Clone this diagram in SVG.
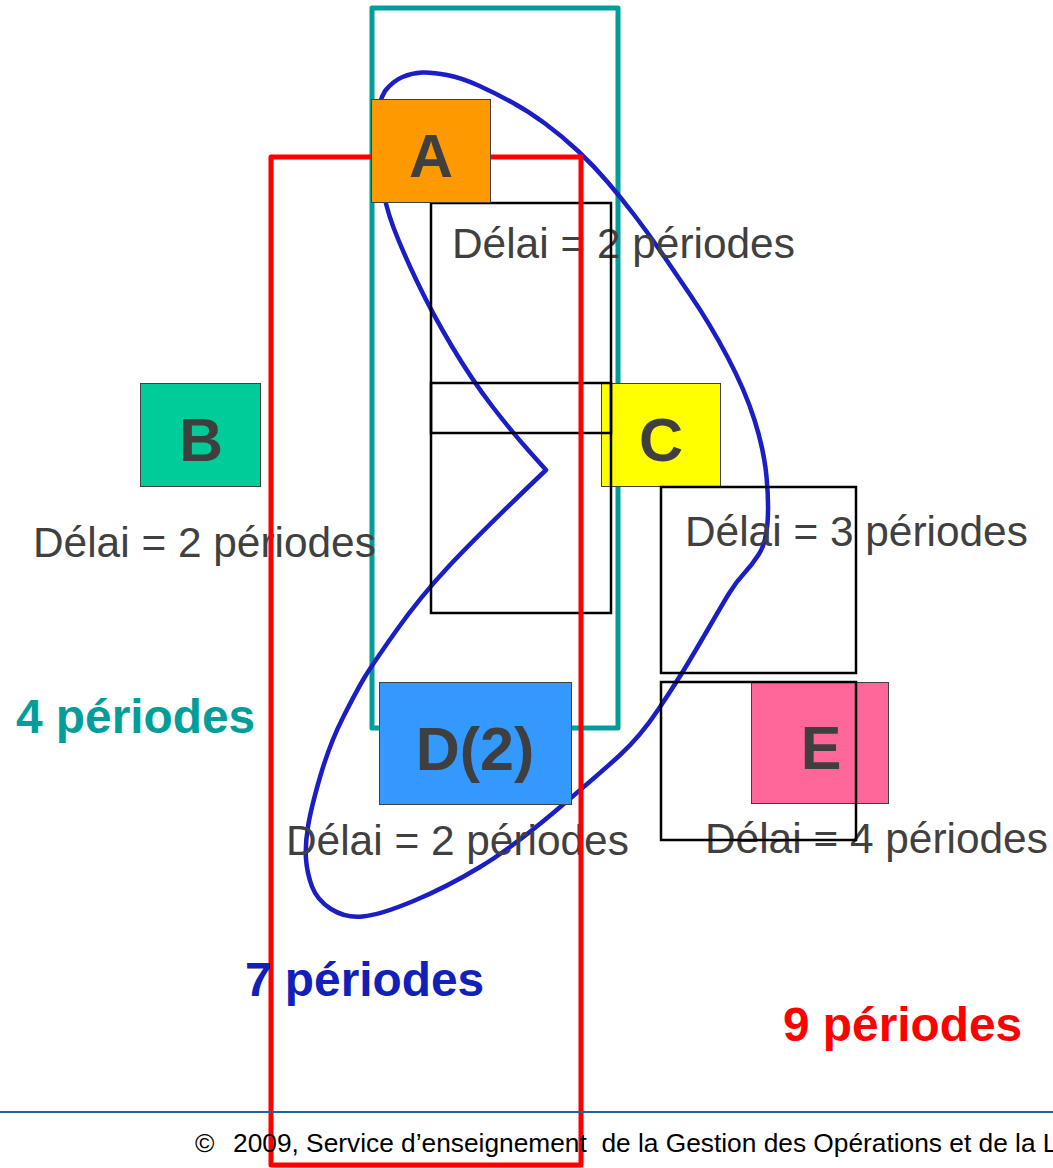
<svg xmlns="http://www.w3.org/2000/svg" width="1053" height="1168" viewBox="0 0 1053 1168">
  <style>
    .box { stroke: #404040; stroke-width: 1; }
    .lbl { font-family: "Liberation Sans", Arial, sans-serif; font-weight: bold; font-size: 61px; fill: #3F3F3F; text-anchor: middle; }
    .delai { font-family: "Liberation Sans", Arial, sans-serif; font-size: 42.4px; fill: #404040; }
    .frame { fill: none; stroke: #000; stroke-width: 2.5; }
    .per { font-family: "Liberation Sans", Arial, sans-serif; font-weight: bold; font-size: 47.8px; }
    .foot { font-family: "Liberation Sans", Arial, sans-serif; font-size: 26.3px; fill: #000; }
  </style>
  <rect x="0" y="0" width="1053" height="1168" fill="#fff"/>

  <g id="connectors">
    <rect id="teal-group" x="372" y="8" width="246" height="720" fill="none" stroke="#009E99" stroke-width="5" stroke-linejoin="round"/>
    <path id="blue-loop" fill="none" stroke="#1A1EC4" stroke-width="4.5" stroke-linejoin="round" stroke-linecap="round"
      d="M546,470 L529,451 Q512,432 492,406 Q472,380 452,346.5 Q432,313 417,281.5 Q402,250 393.5,227.5 Q385,205 380.5,177.5 Q376,150 377,124 Q378,102 385,91 Q393,81 402.5,77 Q412,73 422,72.5 Q432,72 447,75 Q462,78 478.5,85.5 Q495,93 511.5,102 Q528,111 545,123.5 Q562,136 578,151 Q594,166 608,182.5 Q622,199 635,216 Q648,233 660,250.5 Q672,268 691,296 Q710,324 727.5,357 Q745,390 754.5,420 Q764,450 766.5,476.5 Q769,503 767.5,523 Q766,543 759,554 Q752,565 744,573.5 Q736,582 729,593.5 Q722,605 711,624 Q700,643 689,661.5 Q678,680 659,708.5 Q640,737 619,756 Q598,775 555.5,811 Q513,847 480,867 Q447,887 413.5,901 Q380,915 362.5,916.5 Q345,918 331,909 Q317,900 312,886.5 Q307,873 306,859 Q305,845 308,826.5 Q311,808 320.5,775.5 Q330,743 343.5,716.5 Q357,690 364.5,677.5 Q372,665 396,631 Q420,597 450,565 Q480,533 546,470"/>
  </g>

  <g id="node-B">
    <rect class="box" x="140.5" y="383.5" width="120" height="103" fill="#00CC99"/>
    <text class="lbl" x="201" y="461">B</text>
    <text class="delai" x="33" y="557">Délai = 2 périodes</text>
  </g>
  <g id="node-C">
    <rect class="box" x="601.5" y="383.5" width="119" height="103" fill="#FFFF00"/>
    <text class="lbl" x="661" y="461">C</text>
  </g>
  <g id="node-D">
    <rect class="box" x="379.5" y="682.5" width="192" height="122" fill="#3399FF"/>
    <text class="lbl" x="475" y="770">D(2)</text>
    <text class="delai" x="286" y="855">Délai = 2 périodes</text>
  </g>
  <g id="node-E">
    <rect class="box" x="751.5" y="682.5" width="137" height="121" fill="#FF6699"/>
    <text class="lbl" x="821" y="769">E</text>
    <text class="delai" x="705" y="853">Délai = 4 périodes</text>
  </g>
  <g id="labels-A-C">
    <text class="delai" x="452" y="258">Délai = 2 périodes</text>
    <text class="delai" x="685" y="546">Délai = 3 périodes</text>
  </g>

  <g id="text-frames">
    <rect class="frame" x="431" y="203" width="180" height="230"/>
    <rect class="frame" x="431" y="383" width="180" height="230"/>
    <rect class="frame" x="661" y="487" width="195" height="186"/>
    <rect class="frame" x="661" y="682" width="195" height="158"/>
  </g>

  <g id="red-group">
    <rect x="271" y="157" width="310" height="1008" fill="none" stroke="#FF0000" stroke-width="5" stroke-linejoin="round"/>
  </g>

  <g id="node-A">
    <rect class="box" x="371.5" y="99.5" width="119" height="103" fill="#FF9900"/>
    <text class="lbl" x="431" y="177">A</text>
  </g>

  <g id="period-labels">
    <text class="per" x="16" y="733" fill="#009E99">4 périodes</text>
    <text class="per" x="245" y="996" fill="#1020B8">7 périodes</text>
    <text class="per" x="783" y="1041" fill="#FF0000">9 périodes</text>
  </g>

  <g id="footer">
    <line x1="0" y1="1112" x2="1053" y2="1112" stroke="#22609E" stroke-width="2"/>
    <text class="foot" x="195" y="1152">©</text>
    <text class="foot" x="233" y="1152">2009, Service d’enseignement&#160; de la Gestion des Opérations et de la L</text>
  </g>
</svg>
